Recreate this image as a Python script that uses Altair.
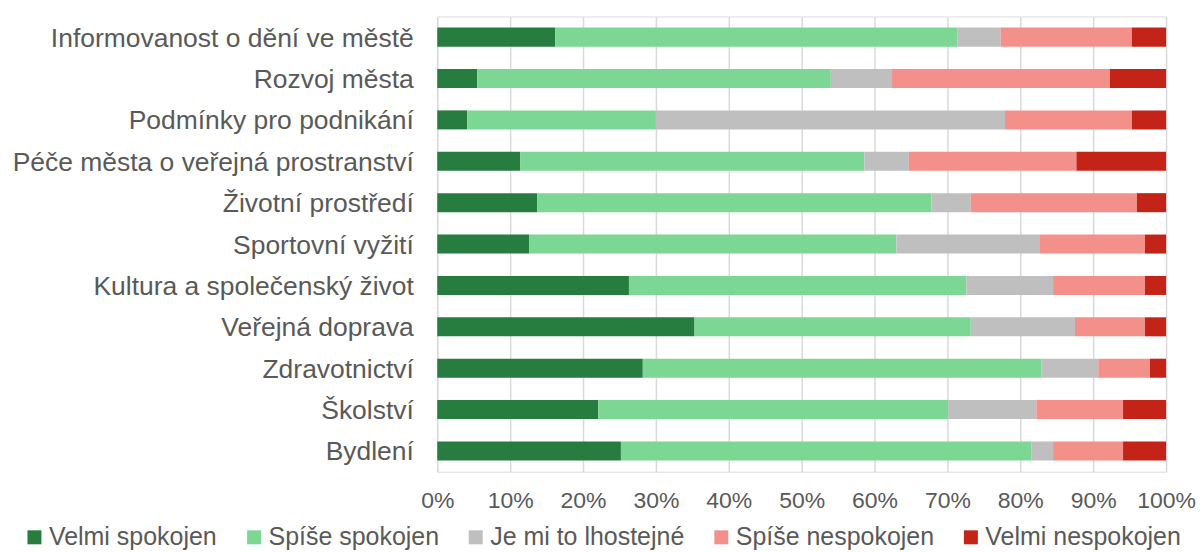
import altair as alt
import pandas as pd

categories = [
    "Informovanost o dění ve městě",
    "Rozvoj města",
    "Podmínky pro podnikání",
    "Péče města o veřejná prostranství",
    "Životní prostředí",
    "Sportovní vyžití",
    "Kultura a společenský život",
    "Veřejná doprava",
    "Zdravotnictví",
    "Školství",
    "Bydlení",
]
series = ["Velmi spokojen", "Spíše spokojen", "Je mi to lhostejné", "Spíše nespokojen", "Velmi nespokojen"]
colors = ["#277C3F", "#7DD794", "#BFBFBF", "#F3908A", "#C42318"]

velmi_spokojen = [16.2, 5.5, 4.1, 11.4, 13.7, 12.6, 26.3, 35.3, 28.2, 22.1, 25.2]
spise_spokojen = [55.2, 48.5, 25.9, 47.2, 54.1, 50.4, 46.3, 37.9, 54.7, 48.0, 56.3]
lhostejne = [5.9, 8.3, 47.9, 6.1, 5.4, 19.7, 11.9, 14.3, 7.8, 12.1, 3.0]
spise_nespokojen = [18.0, 30.0, 17.4, 23.0, 22.8, 14.4, 12.6, 9.6, 7.1, 11.9, 9.6]
velmi_nespokojen = [4.7, 7.7, 4.7, 12.3, 4.0, 2.9, 2.9, 2.9, 2.2, 5.9, 5.9]

x_ticks = [0, 0.1, 0.2, 0.3, 0.4, 0.5, 0.6, 0.7, 0.8, 0.9, 1.0]

all_series = [velmi_spokojen, spise_spokojen, lhostejne, spise_nespokojen, velmi_nespokojen]
rows = []
for i, c in enumerate(categories):
    for j, (s, vals) in enumerate(zip(series, all_series)):
        rows.append({"kategorie": c, "hodnoceni": s, "poradi": j, "podil": vals[i]})
df = pd.DataFrame(rows)

FONT = "Liberation Sans"
TXT = "#595959"

chart = (
    alt.Chart(df)
    .mark_bar()
    .encode(
        y=alt.Y(
            "kategorie:N",
            sort=categories,
            scale=alt.Scale(paddingInner=0.54, paddingOuter=0.27),
            axis=alt.Axis(
                title=None,
                labelFontSize=26.5,
                labelColor=TXT,
                labelFont=FONT,
                labelPadding=24,
                labelOffset=1.5,
                ticks=False,
                domain=False,
                labelLimit=600,
            ),
        ),
        x=alt.X(
            "podil:Q",
            stack="normalize",
            scale=alt.Scale(domain=[0, 1], nice=False),
            axis=alt.Axis(
                title=None,
                format=".0%",
                values=x_ticks,
                grid=True,
                gridColor="#D9D9D9",
                gridWidth=1.5,
                ticks=False,
                domain=False,
                labelFontSize=23,
                labelColor=TXT,
                labelFont=FONT,
                labelPadding=18,
                labelFlush=False,
                labelOverlap=False,
            ),
        ),
        color=alt.Color(
            "hodnoceni:N",
            sort=series,
            scale=alt.Scale(domain=series, range=colors),
            legend=alt.Legend(
                title=None,
                orient="none",
                legendX=-416,
                legendY=509,
                direction="horizontal",
                symbolType="square",
                symbolSize=196,
                symbolStrokeWidth=0,
                labelFontSize=25,
                labelColor=TXT,
                labelFont=FONT,
                labelOffset=2,
                columnPadding=24,
                padding=0,
                labelLimit=400,
            ),
        ),
        order=alt.Order("poradi:Q"),
    )
    .properties(
        width=730,
        height=456,
        autosize=alt.AutoSizeParams(type="none"),
        padding={"left": 430, "top": 8, "right": 30, "bottom": 80},
    )
    .configure_view(stroke=None)
    .configure(font=FONT)
)

chart.save("out.html", embed_options={"renderer": "svg", "actions": False})
